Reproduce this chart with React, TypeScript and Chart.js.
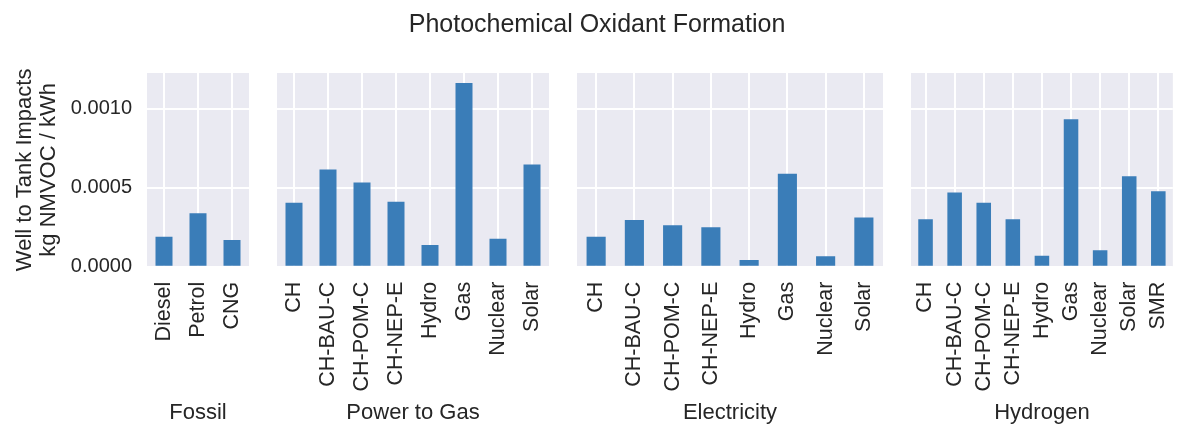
import React, { useEffect, useRef } from "react";
import { Chart, registerables } from "chart.js";

Chart.register(...registerables);

// ---- data ----
const chartTitle = "Photochemical Oxidant Formation";
const yAxisTitle = ["Well to Tank Impacts", "kg NMVOC / kWh"];
const yTickValues = [0, 0.0005, 0.001];
const yMin = 0;
const yMax = 0.001226;

const groupNames = ["Fossil", "Power to Gas", "Electricity", "Hydrogen"];

const fossilLabels = ["Diesel", "Petrol", "CNG"];
const fossilValues = [0.00019, 0.000338, 0.000169];

const powerToGasLabels = ["CH", "CH-BAU-C", "CH-POM-C", "CH-NEP-E", "Hydro", "Gas", "Nuclear", "Solar"];
const powerToGasValues = [0.000405, 0.000616, 0.000533, 0.000411, 0.000137, 0.001163, 0.000177, 0.000647];

const electricityLabels = ["CH", "CH-BAU-C", "CH-POM-C", "CH-NEP-E", "Hydro", "Gas", "Nuclear", "Solar"];
const electricityValues = [0.00019, 0.000295, 0.000262, 0.000249, 0.000042, 0.000588, 0.000066, 0.000312];

const hydrogenLabels = ["CH", "CH-BAU-C", "CH-POM-C", "CH-NEP-E", "Hydro", "Gas", "Nuclear", "Solar", "SMR"];
const hydrogenValues = [0.0003, 0.00047, 0.000405, 0.0003, 0.00007, 0.000934, 0.000104, 0.000573, 0.000478];

// ---- styling / layout ----
const FONT = "'Liberation Sans', Arial, Helvetica, sans-serif";
const TEXT = "#262626";
const BG = "#EAEAF2";
const BAR = "#3a7db8";
const H = 426;
const PLOT_TOP = 73;
const PLOT_BOTTOM = 266.7;

type PanelSpec = {
  name: string;
  labels: string[];
  values: number[];
  left: number;
  right: number;
  first: boolean;
};

const panels: PanelSpec[] = [
  { name: groupNames[0], labels: fossilLabels, values: fossilValues, left: 147, right: 249, first: true },
  { name: groupNames[1], labels: powerToGasLabels, values: powerToGasValues, left: 277, right: 549, first: false },
  { name: groupNames[2], labels: electricityLabels, values: electricityValues, left: 577, right: 883, first: false },
  { name: groupNames[3], labels: hydrogenLabels, values: hydrogenValues, left: 911, right: 1184, first: false },
];

const bgPlugin = {
  id: "panelBg",
  beforeDraw(chart: any) {
    const { ctx, chartArea } = chart;
    if (!chartArea) return;
    ctx.save();
    ctx.fillStyle = BG;
    ctx.fillRect(chartArea.left, chartArea.top, chartArea.right - chartArea.left, chartArea.bottom - chartArea.top);
    ctx.restore();
  },
};

function Panel({ spec }: { spec: PanelSpec }) {
  const ref = useRef<HTMLCanvasElement>(null);
  const W = spec.first ? 1194 : 1200;

  useEffect(() => {
    const canvas = ref.current;
    if (!canvas) return;

    const scales: any = {
      x: {
        type: "category",
        offset: true,
        grid: { display: true, color: "#ffffff", lineWidth: 2, offset: false, drawTicks: false },
        border: { display: false },
        ticks: {
          autoSkip: false,
          minRotation: 90,
          maxRotation: 90,
          padding: 15,
          color: TEXT,
          font: { family: FONT, size: 21.5 },
        },
        title: {
          display: true,
          text: spec.name,
          color: TEXT,
          font: { family: FONT, size: 22, lineHeight: 1.2 },
          padding: { top: 0, bottom: 0 },
        },
        afterFit(s: any) {
          s.height = H - PLOT_BOTTOM;
        },
      },
      y: {
        type: "linear",
        position: "left",
        min: yMin,
        max: yMax,
        grid: { display: true, color: "#ffffff", lineWidth: 2, drawTicks: false },
        border: { display: false },
        afterBuildTicks(s: any) {
          s.ticks = yTickValues.map((v) => ({ value: v }));
        },
        ticks: {
          display: spec.first,
          padding: 15,
          color: TEXT,
          font: { family: FONT, size: 20 },
          callback: (v: any) => Number(v).toFixed(4),
        },
        title: {
          display: spec.first,
          text: yAxisTitle,
          color: TEXT,
          font: { family: FONT, size: 22, lineHeight: 1.1 },
          padding: { top: 13, bottom: 0 },
        },
        afterFit(s: any) {
          s.width = spec.first ? spec.left : 0;
        },
      },
    };

    if (spec.first) {
      scales.yDummy = {
        type: "linear",
        position: "right",
        display: true,
        grid: { display: false, drawTicks: false },
        border: { display: false },
        ticks: { display: false },
        afterFit(s: any) {
          s.width = W - spec.right;
        },
      };
    }

    const chart = new Chart(canvas, {
      type: "bar",
      data: {
        labels: spec.labels,
        datasets: [
          {
            data: spec.values,
            backgroundColor: BAR,
            borderWidth: 0,
            barPercentage: 0.5,
            categoryPercentage: 1.0,
          },
        ],
      },
      options: {
        responsive: false,
        animation: false,
        devicePixelRatio: 1,
        events: [],
        layout: {
          autoPadding: false,
          padding: spec.first
            ? { left: 0, right: 0, top: 0, bottom: 0 }
            : { left: spec.left, right: W - spec.right, top: PLOT_TOP, bottom: 0 },
        },
        plugins: {
          legend: { display: false },
          tooltip: { enabled: false },
          title: {
            display: spec.first,
            text: chartTitle,
            color: TEXT,
            font: { family: FONT, size: 25, weight: "normal", lineHeight: 1.2 },
            padding: { top: 10, bottom: PLOT_TOP - 10 - 30 },
          },
        },
        scales,
      } as any,
      plugins: [bgPlugin],
    });

    return () => chart.destroy();
  }, []);

  return (
    <canvas
      ref={ref}
      width={W}
      height={H}
      style={{ position: "absolute", left: 0, top: 0, width: W, height: H }}
    />
  );
}

export default function App() {
  return (
    <div
      style={{
        position: "absolute",
        left: 0,
        top: 0,
        width: 1178,
        height: H,
        overflow: "hidden",
        background: "#ffffff",
      }}
    >
      {panels.map((p) => (
        <Panel key={p.name} spec={p} />
      ))}
    </div>
  );
}
